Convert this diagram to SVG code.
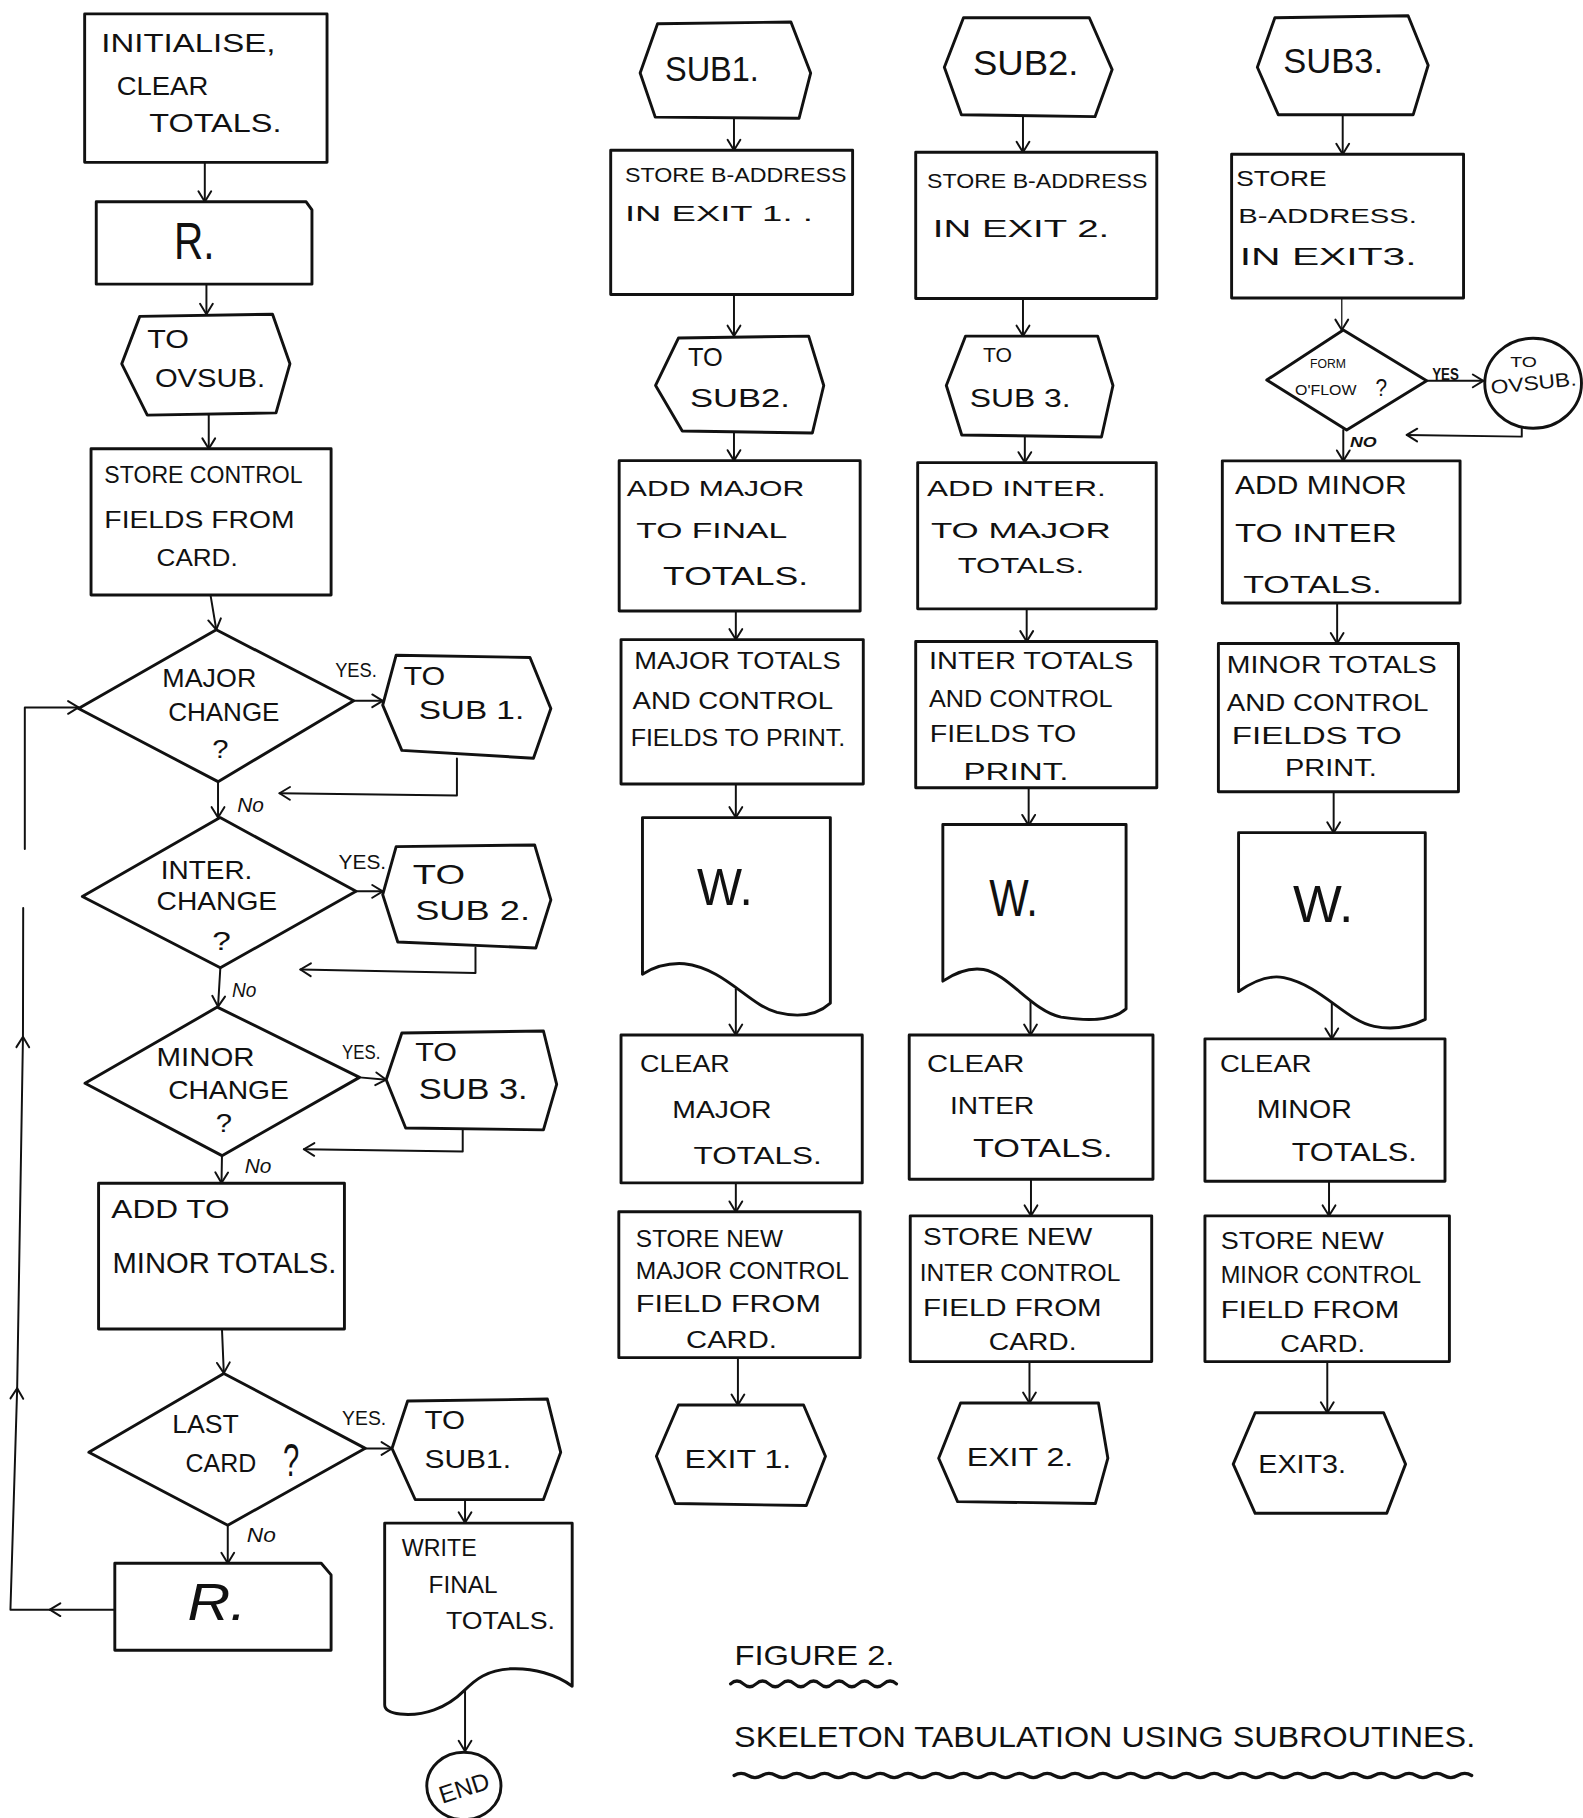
<svg xmlns="http://www.w3.org/2000/svg" width="1583" height="1818" viewBox="0 0 1583 1818">
<defs>
<style>
.b{fill:#fff;stroke:#111;stroke-width:2.5;stroke-linejoin:round}
.c{fill:none;stroke:#111;stroke-width:1.7;stroke-linecap:round;stroke-linejoin:round}
.ct{fill:none;stroke:#111;stroke-width:1.1}
.w{fill:none;stroke:#111;stroke-width:2.8;stroke-linecap:round}
text{font-family:"Liberation Sans",Arial,sans-serif;fill:#111}
.t{font-size:20px}
.m{font-size:22px}
.s{font-size:17px}
.big{font-size:44px}
</style>
<marker id="ah" markerUnits="userSpaceOnUse" markerWidth="14" markerHeight="14" viewBox="-12 -7 14 14" refX="0" refY="0" orient="auto">
<path d="M-9,-5.5 L0,0 L-9,5.5" fill="none" stroke="#111" stroke-width="1.7" stroke-linecap="round" stroke-linejoin="round"/>
</marker>
</defs>
<rect x="0" y="0" width="1583" height="1818" fill="#fff"/>
<g transform="scale(1.159707)">

<g id="connectors">
<g class="c">
<path d="M176.6,140 V174" marker-end="url(#ah)"/>
<path d="M178,245 V271" marker-end="url(#ah)"/>
<path d="M180,358 V387" marker-end="url(#ah)"/>
<path d="M181.5,513 L186.5,543" marker-end="url(#ah)"/>
<path d="M188,674 V705" marker-end="url(#ah)"/>
<path d="M190,834.5 L188,868" marker-end="url(#ah)"/>
<path d="M191.4,996.5 L191,1020" marker-end="url(#ah)"/>
<path d="M191.4,1146 L193,1184" marker-end="url(#ah)"/>
<path d="M196.4,1315 V1348" marker-end="url(#ah)"/>
<path d="M305,604.3 H330" marker-end="url(#ah)"/>
<path d="M307,768.6 H330" marker-end="url(#ah)"/>
<path d="M310,929 L333,931" marker-end="url(#ah)"/>
<path d="M315,1249 H338" marker-end="url(#ah)"/>
<path d="M394,654 V686 L241,684" marker-end="url(#ah)"/>
<path d="M410,817 V839 L259,836" marker-end="url(#ah)"/>
<path d="M399,974 V993 L262,991" marker-end="url(#ah)"/>
<path d="M401,1293 V1313" marker-end="url(#ah)"/>
<path d="M401,1455 V1510" marker-end="url(#ah)"/>
<path d="M99,1388 H43" marker-end="url(#ah)"/>
<path d="M43,1388 H9 L14.8,1197" marker-end="url(#ah)"/>
<path d="M14.8,1197 L19.8,894" marker-end="url(#ah)"/>
<path d="M19.8,894 L20,783"/>
<path d="M21.4,732 V610 H67.7" marker-end="url(#ah)"/>

<path d="M632.9,102 V129.6" marker-end="url(#ah)"/>
<path d="M632.9,254 V289.8" marker-end="url(#ah)"/>
<path d="M632.9,373.4 V397.2" marker-end="url(#ah)"/>
<path d="M634.5,526.8 V551.5" marker-end="url(#ah)"/>
<path d="M634.5,676 V705" marker-end="url(#ah)"/>
<path d="M634.5,853 V892.5" marker-end="url(#ah)"/>
<path d="M634.5,1020 V1045" marker-end="url(#ah)"/>
<path d="M636.3,1170.7 V1211.5" marker-end="url(#ah)"/>

<path d="M882.1,100.6 V131.3" marker-end="url(#ah)"/>
<path d="M882.1,257.4 V289.8" marker-end="url(#ah)"/>
<path d="M883.7,376.8 V398.9" marker-end="url(#ah)"/>
<path d="M885.3,525 V553.2" marker-end="url(#ah)"/>
<path d="M887,679.3 V711.7" marker-end="url(#ah)"/>
<path d="M888.6,858 V892.5" marker-end="url(#ah)"/>
<path d="M889,1017 V1048.4" marker-end="url(#ah)"/>
<path d="M887.7,1174 V1209.8" marker-end="url(#ah)"/>

<path d="M1157.8,98.9 V133" marker-end="url(#ah)"/>
<path d="M1230.2,328.4 H1279" marker-end="url(#ah)"/>
<path d="M1312.2,369 V376.5 L1213,375" marker-end="url(#ah)"/>
<path d="M1158.3,370.8 V397.4" marker-end="url(#ah)"/>
<path d="M1153,520 V554.9" marker-end="url(#ah)"/>
<path d="M1150,682.7 V718" marker-end="url(#ah)"/>
<path d="M1148.4,861.8 V895.8" marker-end="url(#ah)"/>
<path d="M1146,1018.6 V1048.4" marker-end="url(#ah)"/>
<path d="M1144.5,1174.1 V1218.2" marker-end="url(#ah)"/>
</g>
<path class="ct" d="M1157,257 V284.6" marker-end="url(#ah)"/>

<text class="s" x="289" y="584" textLength="36" lengthAdjust="spacingAndGlyphs">YES.</text>
<text class="s" x="204.6" y="699.8" textLength="23" lengthAdjust="spacingAndGlyphs" font-style="italic">No</text>
<text class="s" x="292" y="749" textLength="41" lengthAdjust="spacingAndGlyphs">YES.</text>
<text class="s" x="200" y="860" textLength="21" lengthAdjust="spacingAndGlyphs" font-style="italic">No</text>
<text class="s" x="295" y="912.9" textLength="33" lengthAdjust="spacingAndGlyphs">YES.</text>
<text class="s" x="211" y="1011.7" textLength="23" lengthAdjust="spacingAndGlyphs" font-style="italic">No</text>
<text class="s" x="295" y="1228.5" textLength="38" lengthAdjust="spacingAndGlyphs">YES.</text>
<text class="s" x="212.8" y="1329.4" textLength="25" lengthAdjust="spacingAndGlyphs" font-style="italic">No</text>
<text x="1235" y="327.7" font-size="15" font-weight="bold" textLength="23" lengthAdjust="spacingAndGlyphs">YES</text>
<text x="1164" y="385.2" font-size="13" font-weight="bold" font-style="italic" textLength="23" lengthAdjust="spacingAndGlyphs">NO</text>
</g>

<!-- left column -->
<g id="n-init">
<rect class="b" x="73" y="12" width="209" height="128"/>
<text x="87.4" y="44.5" font-size="23" textLength="150" lengthAdjust="spacingAndGlyphs">INITIALISE,</text>
<text x="100.6" y="82" font-size="23" textLength="79" lengthAdjust="spacingAndGlyphs">CLEAR</text>
<text x="128.7" y="114" font-size="23" textLength="114" lengthAdjust="spacingAndGlyphs">TOTALS.</text>
</g>
<g id="n-read1">
<polygon class="b" points="83,174 264,174 269,181 269,245 83,245"/>
<text class="big" x="150" y="223" textLength="35" lengthAdjust="spacingAndGlyphs">R.</text>
</g>
<g id="n-ovsub1">
<polygon class="b" points="105,313.7 120.5,272.8 235,271 250,313.7 238,356 127,358"/>
<text class="m" x="127" y="300" textLength="36" lengthAdjust="spacingAndGlyphs">TO</text>
<text class="m" x="133.6" y="334" textLength="95" lengthAdjust="spacingAndGlyphs">OVSUB.</text>
</g>
<g id="n-store-ctl">
<rect class="b" x="78.5" y="387" width="207" height="126"/>
<text class="t" x="90" y="416.7" textLength="171" lengthAdjust="spacingAndGlyphs">STORE CONTROL</text>
<text class="t" x="90" y="455" textLength="164" lengthAdjust="spacingAndGlyphs">FIELDS FROM</text>
<text class="t" x="135" y="488" textLength="70" lengthAdjust="spacingAndGlyphs">CARD.</text>
</g>
<g id="n-major">
<polygon class="b" points="186.5,543 305,604.3 188,674 67.7,611"/>
<text class="m" x="140" y="592.4" textLength="81" lengthAdjust="spacingAndGlyphs">MAJOR</text>
<text class="m" x="145" y="621.4" textLength="96" lengthAdjust="spacingAndGlyphs">CHANGE</text>
<text class="m" x="183" y="653.8" textLength="14" lengthAdjust="spacingAndGlyphs">?</text>
</g>
<g id="n-tosub1a">
<polygon class="b" points="330,608 341.6,565 457,566.9 475,611 460,653.8 346.5,647"/>
<text class="m" x="348" y="591" textLength="36" lengthAdjust="spacingAndGlyphs">TO</text>
<text class="m" x="361" y="620" textLength="91" lengthAdjust="spacingAndGlyphs">SUB 1.</text>
</g>
<g id="n-inter">
<polygon class="b" points="189.8,705 307,768.6 190,834.5 71,773"/>
<text class="m" x="138.6" y="757.8" textLength="79" lengthAdjust="spacingAndGlyphs">INTER.</text>
<text class="m" x="135" y="785" textLength="104" lengthAdjust="spacingAndGlyphs">CHANGE</text>
<text class="m" x="183" y="819" textLength="16" lengthAdjust="spacingAndGlyphs">?</text>
</g>
<g id="n-tosub2a">
<polygon class="b" points="330,771.4 341.6,730 461,728.6 475,776 462,817.4 343,812.3"/>
<text x="356" y="762" font-size="24" textLength="45" lengthAdjust="spacingAndGlyphs">TO</text>
<text x="358" y="793.6" font-size="24" textLength="99" lengthAdjust="spacingAndGlyphs">SUB 2.</text>
</g>
<g id="n-minor">
<polygon class="b" points="187.4,868.4 310,929 191.4,996.5 73.3,934.1"/>
<text class="m" x="135" y="919" textLength="84.5" lengthAdjust="spacingAndGlyphs">MINOR</text>
<text class="m" x="145" y="948" textLength="104" lengthAdjust="spacingAndGlyphs">CHANGE</text>
<text class="m" x="186" y="976" textLength="14" lengthAdjust="spacingAndGlyphs">?</text>
</g>
<g id="n-tosub3a">
<polygon class="b" points="333,931 346.5,890.7 468.6,889 480,935 468.6,974.3 349.8,972.6"/>
<text class="m" x="358" y="914.6" textLength="36" lengthAdjust="spacingAndGlyphs">TO</text>
<text x="361" y="948" font-size="25" textLength="94" lengthAdjust="spacingAndGlyphs">SUB 3.</text>
</g>
<g id="n-addminor">
<rect class="b" x="85" y="1020.3" width="212" height="125.7"/>
<text x="96" y="1050" font-size="23" textLength="102" lengthAdjust="spacingAndGlyphs">ADD TO</text>
<text x="97" y="1097.6" font-size="26" textLength="193" lengthAdjust="spacingAndGlyphs">MINOR TOTALS.</text>
</g>
<g id="n-lastcard">
<polygon class="b" points="193,1184.3 315,1248.9 196.4,1315.2 76.6,1252.3"/>
<text class="m" x="148.5" y="1235.3" textLength="57.5" lengthAdjust="spacingAndGlyphs">LAST</text>
<text class="m" x="160" y="1269.3" textLength="61" lengthAdjust="spacingAndGlyphs">CARD</text>
<text x="244" y="1272.7" font-size="40" textLength="14" lengthAdjust="spacingAndGlyphs">?</text>
</g>
<g id="n-tosub1b">
<polygon class="b" points="338,1249 351.5,1208.1 472,1206.4 483.5,1252.3 468.6,1293.1 358,1293"/>
<text class="m" x="366" y="1231.9" textLength="35" lengthAdjust="spacingAndGlyphs">TO</text>
<text class="m" x="366" y="1265.8" textLength="74.6" lengthAdjust="spacingAndGlyphs">SUB1.</text>
</g>
<g id="n-write">
<path class="b" d="M331.7,1313.4 H493.4 V1454 C480,1444 460,1438 440,1439 C420,1440 410,1448 400,1458 C385,1473 365,1480 345,1478 C336,1477 331.7,1474 331.7,1470 Z"/>
<text class="t" x="346.5" y="1341.4" textLength="64.5" lengthAdjust="spacingAndGlyphs">WRITE</text>
<text class="t" x="369.6" y="1374" textLength="59.4" lengthAdjust="spacingAndGlyphs">FINAL</text>
<text class="t" x="384.5" y="1405" textLength="94" lengthAdjust="spacingAndGlyphs">TOTALS.</text>
</g>
<g id="n-end">
<ellipse class="b" cx="400" cy="1540" rx="32" ry="29"/>
<text x="400" y="1549" font-size="21" text-anchor="middle" transform="rotate(-18 400 1541)">END</text>
</g>
<g id="n-read2">
<polygon class="b" points="99,1348 277,1348 285.5,1358 285.5,1423 99,1423"/>
<text x="161.6" y="1397" font-size="44" font-family="Liberation Serif, serif" font-style="italic" textLength="51" lengthAdjust="spacingAndGlyphs">R.</text>
</g>

<!-- SUB1 column -->
<g id="n-sub1">
<polygon class="b" points="552,63 567,20.5 682,19 699,63 689,102 565,101"/>
<text x="573.4" y="69.9" font-size="30" textLength="81" lengthAdjust="spacingAndGlyphs">SUB1.</text>
</g>
<g id="n-storeb1">
<rect class="b" x="526.6" y="129.6" width="208.6" height="124.4"/>
<text x="538.9" y="156.8" font-size="17" textLength="191" lengthAdjust="spacingAndGlyphs">STORE B-ADDRESS</text>
<text x="538.9" y="191" font-size="19" textLength="162" lengthAdjust="spacingAndGlyphs">IN EXIT 1. .</text>
</g>
<g id="n-tosub2b">
<polygon class="b" points="565.3,332.4 585,291.5 697.3,289.8 710.3,332.4 700.5,373.4 588.3,371.6"/>
<text class="m" x="593.3" y="315.4" textLength="30" lengthAdjust="spacingAndGlyphs">TO</text>
<text class="m" x="595" y="351.2" textLength="86" lengthAdjust="spacingAndGlyphs">SUB2.</text>
</g>
<g id="n-addmajor">
<rect class="b" x="533.9" y="397.2" width="207.8" height="129.6"/>
<text x="540.5" y="427.9" font-size="19" textLength="153" lengthAdjust="spacingAndGlyphs">ADD MAJOR</text>
<text x="548.7" y="463.7" font-size="19" textLength="130" lengthAdjust="spacingAndGlyphs">TO FINAL</text>
<text class="m" x="571.8" y="504.6" textLength="125" lengthAdjust="spacingAndGlyphs">TOTALS.</text>
</g>
<g id="n-majorprint">
<rect class="b" x="535.5" y="551.5" width="208.9" height="124.5"/>
<text class="t" x="547" y="577" textLength="178" lengthAdjust="spacingAndGlyphs">MAJOR TOTALS</text>
<text class="t" x="545.4" y="611" textLength="173" lengthAdjust="spacingAndGlyphs">AND CONTROL</text>
<text class="t" x="543.8" y="643.5" textLength="185" lengthAdjust="spacingAndGlyphs">FIELDS TO PRINT.</text>
</g>
<g id="n-w1">
<path class="b" d="M554,705 H716 V865 C705,875 690,878 670,873 C645,866 625,835 590,831 C575,830 562,835 554,840 Z"/>
<text x="601" y="780" font-size="45" textLength="48" lengthAdjust="spacingAndGlyphs">W.</text>
</g>
<g id="n-clearmajor">
<rect class="b" x="535.5" y="892.5" width="208" height="127.5"/>
<text class="t" x="551.9" y="924.8" textLength="77.4" lengthAdjust="spacingAndGlyphs">CLEAR</text>
<text class="t" x="579.7" y="964" textLength="85.6" lengthAdjust="spacingAndGlyphs">MAJOR</text>
<text class="t" x="598" y="1003.3" textLength="110.5" lengthAdjust="spacingAndGlyphs">TOTALS.</text>
</g>
<g id="n-newmajor">
<rect class="b" x="533.6" y="1044.9" width="208.1" height="125.8"/>
<text class="t" x="548.3" y="1075.5" textLength="127" lengthAdjust="spacingAndGlyphs">STORE NEW</text>
<text class="t" x="548.3" y="1102.7" textLength="183.7" lengthAdjust="spacingAndGlyphs">MAJOR CONTROL</text>
<text class="t" x="548.3" y="1131.6" textLength="159.5" lengthAdjust="spacingAndGlyphs">FIELD FROM</text>
<text class="t" x="591.6" y="1162.2" textLength="78.3" lengthAdjust="spacingAndGlyphs">CARD.</text>
</g>
<g id="n-exit1">
<polygon class="b" points="566,1255.7 585,1211.5 692.9,1211.5 711.8,1255.7 695.3,1298.2 582.2,1296.5"/>
<text class="m" x="590.3" y="1265.8" textLength="92" lengthAdjust="spacingAndGlyphs">EXIT 1.</text>
</g>

<!-- SUB2 column -->
<g id="n-sub2">
<polygon class="b" points="814.3,58 830.8,15.3 939.3,15.3 959,60 944.2,100.6 829,98.9"/>
<text x="839" y="64.8" font-size="30" textLength="91" lengthAdjust="spacingAndGlyphs">SUB2.</text>
</g>
<g id="n-storeb2">
<rect class="b" x="789.6" y="131.3" width="207.9" height="126.1"/>
<text x="799.4" y="162" font-size="17" textLength="190" lengthAdjust="spacingAndGlyphs">STORE B-ADDRESS</text>
<text class="t" x="804.4" y="204.6" textLength="152" lengthAdjust="spacingAndGlyphs">IN EXIT 2.</text>
</g>
<g id="n-tosub3b">
<polygon class="b" points="816,332.4 832.6,289.8 946.5,289.8 959.7,332.4 949.8,376.8 829.3,375.1"/>
<text x="847.6" y="312" font-size="18" textLength="25" lengthAdjust="spacingAndGlyphs">TO</text>
<text class="m" x="836.2" y="351.2" textLength="87" lengthAdjust="spacingAndGlyphs">SUB 3.</text>
</g>
<g id="n-addinter">
<rect class="b" x="791.3" y="398.9" width="205.7" height="126.1"/>
<text x="799.4" y="427.9" font-size="19" textLength="154" lengthAdjust="spacingAndGlyphs">ADD INTER.</text>
<text x="802.7" y="463.7" font-size="19" textLength="155" lengthAdjust="spacingAndGlyphs">TO MAJOR</text>
<text x="825.8" y="494.4" font-size="19" textLength="109" lengthAdjust="spacingAndGlyphs">TOTALS.</text>
</g>
<g id="n-interprint">
<rect class="b" x="789.6" y="553.2" width="207.9" height="126.1"/>
<text class="t" x="801" y="577" textLength="176.3" lengthAdjust="spacingAndGlyphs">INTER TOTALS</text>
<text class="t" x="801" y="609.4" textLength="158.4" lengthAdjust="spacingAndGlyphs">AND CONTROL</text>
<text class="t" x="801.7" y="640" textLength="126.3" lengthAdjust="spacingAndGlyphs">FIELDS TO</text>
<text class="t" x="830.8" y="672.5" textLength="90.5" lengthAdjust="spacingAndGlyphs">PRINT.</text>
</g>
<g id="n-w2">
<path class="b" d="M813,711 H971 V870 C960,880 940,881 915,877 C890,872 870,840 848,836 C835,834 822,840 813,846 Z"/>
<text x="853" y="790" font-size="45" textLength="42" lengthAdjust="spacingAndGlyphs">W.</text>
</g>
<g id="n-clearinter">
<rect class="b" x="784" y="892.5" width="210.2" height="124.4"/>
<text class="t" x="799.4" y="924.8" textLength="84" lengthAdjust="spacingAndGlyphs">CLEAR</text>
<text class="t" x="819.2" y="960.6" textLength="72.6" lengthAdjust="spacingAndGlyphs">INTER</text>
<text class="m" x="839" y="998.1" textLength="120.4" lengthAdjust="spacingAndGlyphs">TOTALS.</text>
</g>
<g id="n-newinter">
<rect class="b" x="784.9" y="1048.4" width="208.2" height="125.7"/>
<text class="t" x="795.9" y="1073.8" textLength="145.9" lengthAdjust="spacingAndGlyphs">STORE NEW</text>
<text class="t" x="793.1" y="1104.4" textLength="173" lengthAdjust="spacingAndGlyphs">INTER CONTROL</text>
<text class="t" x="795.9" y="1135" textLength="154.1" lengthAdjust="spacingAndGlyphs">FIELD FROM</text>
<text class="t" x="852.6" y="1163.9" textLength="75.7" lengthAdjust="spacingAndGlyphs">CARD.</text>
</g>
<g id="n-exit2">
<polygon class="b" points="809.4,1257.4 828.3,1209.8 947.2,1209.8 955.3,1257.4 944.5,1296.5 825.7,1294.8"/>
<text class="m" x="833.6" y="1264.1" textLength="91.9" lengthAdjust="spacingAndGlyphs">EXIT 2.</text>
</g>

<!-- SUB3 column -->
<g id="n-sub3">
<polygon class="b" points="1084.2,58 1099.3,15.3 1214.2,13.6 1231.5,56.3 1218.6,98.9 1102.2,98.9"/>
<text x="1106.6" y="63.1" font-size="30" textLength="86" lengthAdjust="spacingAndGlyphs">SUB3.</text>
</g>
<g id="n-storeb3">
<rect class="b" x="1062" y="133" width="200" height="124"/>
<text x="1066" y="160.3" font-size="19" textLength="78" lengthAdjust="spacingAndGlyphs">STORE</text>
<text x="1067.8" y="192.6" font-size="18" textLength="154" lengthAdjust="spacingAndGlyphs">B-ADDRESS.</text>
<text class="t" x="1069" y="228.5" textLength="152.6" lengthAdjust="spacingAndGlyphs">IN EXIT3.</text>
</g>
<g id="n-oflow">
<polygon class="b" points="1158.3,284.6 1230.2,328.4 1161.2,370.8 1092.3,327.7"/>
<text x="1129.6" y="317.6" font-size="11" textLength="31" lengthAdjust="spacingAndGlyphs">FORM</text>
<text x="1116.7" y="340.6" font-size="13" textLength="53" lengthAdjust="spacingAndGlyphs">O'FLOW</text>
<text x="1186" y="341.4" font-size="20" textLength="10" lengthAdjust="spacingAndGlyphs">?</text>
</g>
<g id="n-ovsub2">
<ellipse class="b" cx="1322" cy="330.5" rx="41.7" ry="38.8"/>
<text x="1302.2" y="316.2" font-size="13" textLength="23" lengthAdjust="spacingAndGlyphs">TO</text>
<text x="1286.2" y="340" font-size="17" textLength="74" lengthAdjust="spacingAndGlyphs" transform="rotate(-6 1286.2 340)">OVSUB.</text>
</g>
<g id="n-addminor3">
<rect class="b" x="1054" y="397.4" width="205" height="122.6"/>
<text class="m" x="1064.9" y="426.2" textLength="148" lengthAdjust="spacingAndGlyphs">ADD MINOR</text>
<text class="m" x="1064.9" y="467.1" textLength="139.7" lengthAdjust="spacingAndGlyphs">TO INTER</text>
<text class="t" x="1072" y="511.4" textLength="119.4" lengthAdjust="spacingAndGlyphs">TOTALS.</text>
</g>
<g id="n-minorprint">
<rect class="b" x="1050.6" y="554.9" width="207" height="127.8"/>
<text class="t" x="1057.8" y="580.5" textLength="181.1" lengthAdjust="spacingAndGlyphs">MINOR TOTALS</text>
<text class="t" x="1057.8" y="612.9" textLength="173.9" lengthAdjust="spacingAndGlyphs">AND CONTROL</text>
<text class="t" x="1062.1" y="641.8" textLength="146.6" lengthAdjust="spacingAndGlyphs">FIELDS TO</text>
<text class="t" x="1108.1" y="669.1" textLength="79" lengthAdjust="spacingAndGlyphs">PRINT.</text>
</g>
<g id="n-w3">
<path class="b" d="M1068,718 H1229 V879 C1215,886 1200,888 1185,885 C1160,880 1140,850 1107,843 C1092,840 1078,848 1068,855 Z"/>
<text x="1115" y="795.3" font-size="45" textLength="52" lengthAdjust="spacingAndGlyphs">W.</text>
</g>
<g id="n-clearminor">
<rect class="b" x="1039" y="895.8" width="207" height="122.8"/>
<text class="t" x="1052" y="924.8" textLength="79" lengthAdjust="spacingAndGlyphs">CLEAR</text>
<text class="m" x="1083.6" y="964" textLength="82" lengthAdjust="spacingAndGlyphs">MINOR</text>
<text class="m" x="1113.8" y="1001.5" textLength="107.8" lengthAdjust="spacingAndGlyphs">TOTALS.</text>
</g>
<g id="n-newminor">
<rect class="b" x="1039" y="1048.4" width="210.8" height="125.7"/>
<text class="t" x="1052.6" y="1077.2" textLength="140.5" lengthAdjust="spacingAndGlyphs">STORE NEW</text>
<text class="t" x="1052.6" y="1106.1" textLength="172.9" lengthAdjust="spacingAndGlyphs">MINOR CONTROL</text>
<text class="t" x="1052.6" y="1136.7" textLength="154" lengthAdjust="spacingAndGlyphs">FIELD FROM</text>
<text class="t" x="1104" y="1165.6" textLength="73" lengthAdjust="spacingAndGlyphs">CARD.</text>
</g>
<g id="n-exit3">
<polygon class="b" points="1063.4,1262.5 1082.3,1218.2 1193.1,1218.2 1212,1262.5 1195.8,1304.9 1082.3,1304.9"/>
<text class="m" x="1085" y="1270.1" textLength="75.6" lengthAdjust="spacingAndGlyphs">EXIT3.</text>
</g>

<!-- caption -->
<g id="caption">
<text x="633.3" y="1435.8" font-size="24" textLength="138" lengthAdjust="spacingAndGlyphs">FIGURE 2.</text>
<path class="w" d="M630,1452 q5.5,-5 11,0 t11,0 t11,0 t11,0 t11,0 t11,0 t11,0 t11,0 t11,0 t11,0 t11,0 t11,0 t11,0"/>
<text x="633" y="1506" font-size="26" textLength="639" lengthAdjust="spacingAndGlyphs">SKELETON TABULATION USING SUBROUTINES.</text>
<path class="w" d="M633,1531 q6,-3.5 12,0 t12,0 t12,0 t12,0 t12,0 t12,0 t12,0 t12,0 t12,0 t12,0 t12,0 t12,0 t12,0 t12,0 t12,0 t12,0 t12,0 t12,0 t12,0 t12,0 t12,0 t12,0 t12,0 t12,0 t12,0 t12,0 t12,0 t12,0 t12,0 t12,0 t12,0 t12,0 t12,0 t12,0 t12,0 t12,0 t12,0 t12,0 t12,0 t12,0 t12,0 t12,0 t12,0 t12,0 t12,0 t12,0 t12,0 t12,0 t12,0 t12,0 t12,0 t12,0 t12,0"/>
</g>
</g>
</svg>
